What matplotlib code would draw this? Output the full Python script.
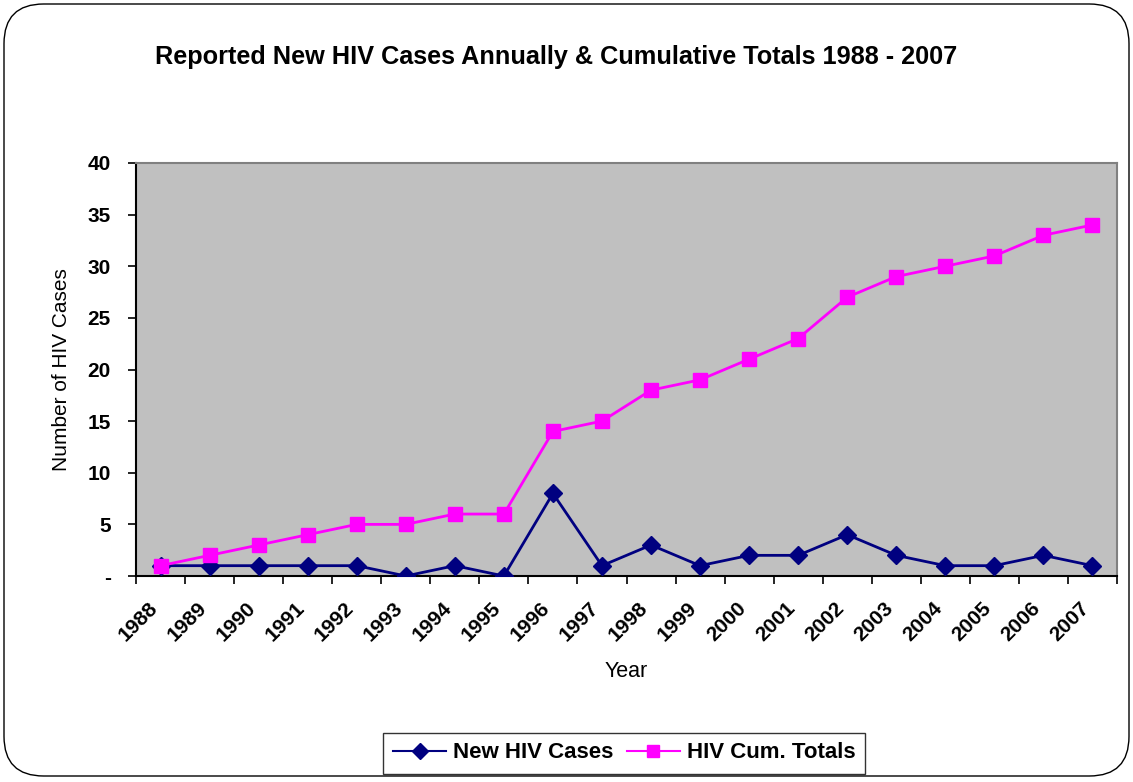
import numpy as np
import matplotlib
matplotlib.use('Agg')
import matplotlib.pyplot as plt
import matplotlib.transforms as mtransforms
from matplotlib.patches import FancyBboxPatch

# ===================== DATI =====================
years = [str(y) for y in range(1988, 2008)]
new_cases = [1, 1, 1, 1, 1, 0, 1, 0, 8, 1, 3, 1, 2, 2, 4, 2, 1, 1, 2, 1]
cum_totals = [1, 2, 3, 4, 5, 5, 6, 6, 14, 15, 18, 19, 21, 23, 27, 29, 30, 31, 33, 34]
y_ticks = [0, 5, 10, 15, 20, 25, 30, 35, 40]
y_ticklabels = ['-', '5', '10', '15', '20', '25', '30', '35', '40']
# ================================================

plt.rcParams['font.family'] = ['Liberation Sans', 'DejaVu Sans']

W, H = 1133, 782
fig = plt.figure(figsize=(W / 100, H / 100), dpi=100)

# cornice esterna arrotondata (stile Excel)
frame = FancyBboxPatch((4 / W, 6 / H), 1125 / W, 772 / H,
                       boxstyle='round,pad=0,rounding_size=0.035',
                       transform=fig.transFigure, fill=False,
                       edgecolor='black', linewidth=1.0,
                       mutation_aspect=W / H)
fig.patches.append(frame)

ax = fig.add_axes([136 / W, 1 - 576 / H, (1117 - 136) / W, (576 - 163) / H])
ax.set_facecolor('#C0C0C0')

x = np.arange(len(years))
ax.plot(x, new_cases, color='#000080', marker='D', markersize=9.5,
        linewidth=2, label='New HIV Cases', zorder=3)
ax.plot(x, cum_totals, color='#FF00FF', marker='s', markersize=10,
        linewidth=2, label='HIV Cum. Totals', zorder=3)

ax.set_xlim(-0.5, len(years) - 0.5)
ax.set_ylim(0, 40)

# tacche sui confini di categoria, etichette al centro
ax.set_xticks(np.arange(len(years) + 1) - 0.5)
ax.set_xticklabels([])
ax.set_xticks(x, minor=True)
ax.set_xticklabels(years, minor=True, rotation=45, ha='right', va='top',
                   rotation_mode='anchor', fontsize=15, fontweight='bold')
ax.tick_params(axis='x', which='major', length=6, width=1.2, direction='out')
ax.tick_params(axis='x', which='minor', length=0, pad=16)
offset = mtransforms.ScaledTranslation(-13 / 100, 0, fig.dpi_scale_trans)
for lab in ax.get_xticklabels(minor=True):
    lab.set_transform(lab.get_transform() + offset)

ax.set_yticks(y_ticks)
ax.set_yticklabels(y_ticklabels, fontsize=15, fontweight='bold')
ax.tick_params(axis='y', length=6, width=1.2, direction='out', pad=12)

for s in ['top', 'right']:
    ax.spines[s].set_color('#808080')
    ax.spines[s].set_linewidth(1.5)
for s in ['left', 'bottom']:
    ax.spines[s].set_color('black')
    ax.spines[s].set_linewidth(1.5)

ax.set_xlabel('Year', fontsize=15.5, labelpad=12)
ax.set_ylabel('Number of HIV Cases', fontsize=15, labelpad=12)

fig.text(556 / W, 1 - 57 / H,
         'Reported New HIV Cases Annually & Cumulative Totals 1988 - 2007',
         ha='center', va='center', fontsize=18.2, fontweight='bold')

leg = fig.legend(loc='center', bbox_to_anchor=(624 / W, 1 - 753 / H),
                 ncol=2, frameon=True, fancybox=False, edgecolor='black',
                 prop={'weight': 'bold', 'size': 16}, handlelength=2.4,
                 columnspacing=0.6, handletextpad=0.3, borderpad=0.45)
leg.get_frame().set_linewidth(1.0)
for h in leg.legend_handles:
    h.set_linewidth(1.5)
    h.set_markersize(8)

fig.savefig('out.png', dpi=100)
